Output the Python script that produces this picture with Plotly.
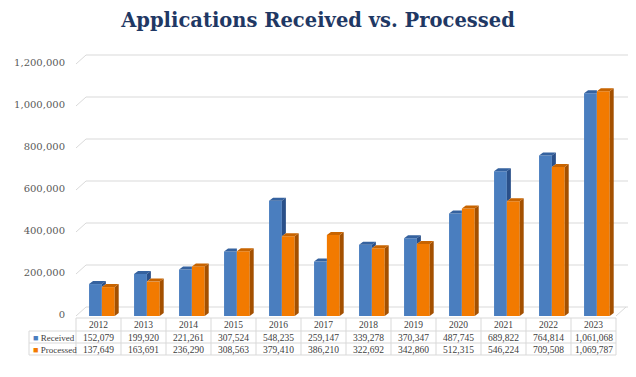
import plotly.graph_objects as go

# ---------------- data ----------------
years = ["2012", "2013", "2014", "2015", "2016", "2017",
         "2018", "2019", "2020", "2021", "2022", "2023"]
received = [152079, 199920, 221261, 307524, 548235, 259147,
            339278, 370347, 487745, 689822, 764814, 1061068]
processed = [137649, 163691, 236290, 308563, 379410, 386210,
             322692, 342860, 512315, 546224, 709508, 1069787]
tick_vals = [0, 200000, 400000, 600000, 800000, 1000000, 1200000]
series_names = ["Received", "Processed"]

# ---------------- geometry / style ----------------
OFF = 8                       # page body margin in the browser
W, H = 636 - OFF, 377 - OFF
ML, MR, MT = 76 - OFF, 6, 50 - OFF
plot_w = W - ML - MR          # 554
plot_h = 266
MB = H - MT - plot_h
px_per_cat = 45.0
x_min = -0.5
x_max = x_min + plot_w / px_per_cat
val_per_px = 1e6 / 210.0
y_max = plot_h * val_per_px

BLUE, BLUE_TOP, BLUE_SIDE = "#4A7EBF", "#35629F", "#2A5089"
ORANGE, ORANGE_TOP, ORANGE_SIDE = "#F27A00", "#C86400", "#A45000"
GRID = "#D9D9D9"
TXT = "#404040"
SERIF = "Georgia, 'DejaVu Serif', serif"
TSERIF = "'Liberation Serif', 'Times New Roman', serif"

bar_w = 0.285
off_b = -0.21
off_o = off_b + bar_w
dx = 4 / px_per_cat          # bar depth (x)
dy = 3 * val_per_px          # bar depth (y)
dxw = 10 / px_per_cat        # wall depth (x)
dyw = 9 * val_per_px         # wall depth (y)

idx = list(range(len(years)))


# positions below are given in reference-image pixels
def paper_x(px):
    return (px - 76) / plot_w


def paper_y(py):
    return (316 - py) / plot_h


def data_to_paper_x(x):
    return (x - x_min) / (x_max - x_min)


fig = go.Figure()

# front faces
fig.add_trace(go.Bar(x=idx, y=received, width=bar_w, offset=off_b, name=series_names[0],
                     marker=dict(color=BLUE, line=dict(width=0)), hoverinfo="skip"))
fig.add_trace(go.Bar(x=idx, y=processed, width=bar_w, offset=off_o, name=series_names[1],
                     marker=dict(color=ORANGE, line=dict(width=0)), hoverinfo="skip"))

# 3D faces
bt_x, bt_y, bs_x, bs_y = [], [], [], []
ot_x, ot_y, os_x, os_y = [], [], [], []
for i, (vb, vo) in enumerate(zip(received, processed)):
    xl_b = i + off_b
    xr_b = xl_b + bar_w
    xl_o = xr_b
    xr_o = xl_o + bar_w
    if vb > vo:
        bt_x += [xl_b, xr_b, xr_b + dx, xl_b + dx, xl_b, None]
        bt_y += [vb, vb, vb + dy, vb + dy, vb, None]
        bs_x += [xr_b, xr_b + dx, xr_b + dx, xr_b, xr_b, None]
        bs_y += [vo, vo + dy, vb + dy, vb, vo, None]
    else:
        bt_x += [xl_b, xr_b, xr_b, xl_b + dx, xl_b, None]
        bt_y += [vb, vb, vb + dy, vb + dy, vb, None]
    ot_x += [xl_o, xr_o, xr_o + dx, xl_o + dx, xl_o, None]
    ot_y += [vo, vo, vo + dy, vo + dy, vo, None]
    os_x += [xr_o, xr_o + dx, xr_o + dx, xr_o, xr_o, None]
    os_y += [0, dy, vo + dy, vo, 0, None]

for xs, ys, col in [(bt_x, bt_y, BLUE_TOP), (bs_x, bs_y, BLUE_SIDE),
                    (os_x, os_y, ORANGE_SIDE), (ot_x, ot_y, ORANGE_TOP)]:
    fig.add_trace(go.Scatter(x=xs, y=ys, mode="lines", fill="toself", fillcolor=col,
                             line=dict(width=0, color=col), hoverinfo="skip",
                             showlegend=False))

shapes = []
x_end = x_max - 2 / px_per_cat
for v in tick_vals:
    shapes.append(dict(type="path", layer="below", xref="x", yref="y",
                       path=f"M {x_min},{v} L {x_min + dxw},{v + dyw} L {x_end},{v + dyw}",
                       line=dict(color=GRID, width=1)))
shapes.append(dict(type="line", layer="below", xref="x", yref="y",
                   x0=11.5, y0=0, x1=11.5 + dxw, y1=dyw, line=dict(color=GRID, width=1)))

# data table
t_top, r1, r2, t_bot = 318, 331, 343, 355
leg_left = 29
right_p = data_to_paper_x(11.5)
shapes.append(dict(type="line", xref="paper", yref="paper", x0=0, x1=right_p,
                   y0=paper_y(t_top), y1=paper_y(t_top), line=dict(color=GRID, width=1)))
for yy in (r1, r2, t_bot):
    shapes.append(dict(type="line", xref="paper", yref="paper", x0=paper_x(leg_left), x1=right_p,
                       y0=paper_y(yy), y1=paper_y(yy), line=dict(color=GRID, width=1)))
for k in range(len(years) + 1):
    shapes.append(dict(type="line", xref="paper", yref="paper",
                       x0=data_to_paper_x(k - 0.5), x1=data_to_paper_x(k - 0.5),
                       y0=paper_y(t_top), y1=paper_y(t_bot), line=dict(color=GRID, width=1)))
shapes.append(dict(type="line", xref="paper", yref="paper", x0=paper_x(leg_left), x1=paper_x(leg_left),
                   y0=paper_y(r1), y1=paper_y(t_bot), line=dict(color=GRID, width=1)))

annotations = []
tfont = dict(family=TSERIF, size=9.5, color=TXT)
lfont = dict(family=TSERIF, size=9, color=TXT)
row_c = [(t_top + r1) / 2 + 0.5, (r1 + r2) / 2 + 0.5, (r2 + t_bot) / 2 + 0.5]
for i, y in enumerate(years):
    annotations.append(dict(x=i, y=paper_y(row_c[0]), xref="x", yref="paper", text=y,
                            showarrow=False, font=tfont, yanchor="middle"))
    annotations.append(dict(x=i, y=paper_y(row_c[1]), xref="x", yref="paper",
                            text=f"{received[i]:,}", showarrow=False, font=tfont, yanchor="middle"))
    annotations.append(dict(x=i, y=paper_y(row_c[2]), xref="x", yref="paper",
                            text=f"{processed[i]:,}", showarrow=False, font=tfont, yanchor="middle"))
for name, col, rc in [(series_names[0], BLUE, row_c[1]), (series_names[1], ORANGE, row_c[2])]:
    annotations.append(dict(x=paper_x(leg_left + 2), y=paper_y(rc), xref="paper", yref="paper",
                            xanchor="left", yanchor="middle", showarrow=False, font=lfont,
                            text=f'<span style="color:{col}">■</span> {name}'))

fig.update_layout(
    width=W, height=H,
    margin=dict(l=ML, r=MR, t=MT, b=MB, pad=0),
    paper_bgcolor="white", plot_bgcolor="white",
    barmode="overlay", showlegend=False,
    title=dict(text="<b>Applications Received vs. Processed</b>", x=(318 - OFF) / W,
               xanchor="center", xref="container", y=1 - (20 - OFF) / H, yref="container",
               yanchor="middle",
               font=dict(family=SERIF, size=19.5, color="#1F3864")),
    xaxis=dict(range=[x_min, x_max], showticklabels=False, showgrid=False,
               zeroline=False, showline=False, fixedrange=True),
    yaxis=dict(range=[0, y_max], tickvals=tick_vals, tickformat=",", showgrid=False,
               zeroline=False, showline=False, ticks="", ticklabelstandoff=10,
               ticklabelshift=-2,
               tickfont=dict(family=SERIF, size=10, color="#595959"), fixedrange=True),
    shapes=shapes, annotations=annotations,
)

fig.write_html("out.html")
